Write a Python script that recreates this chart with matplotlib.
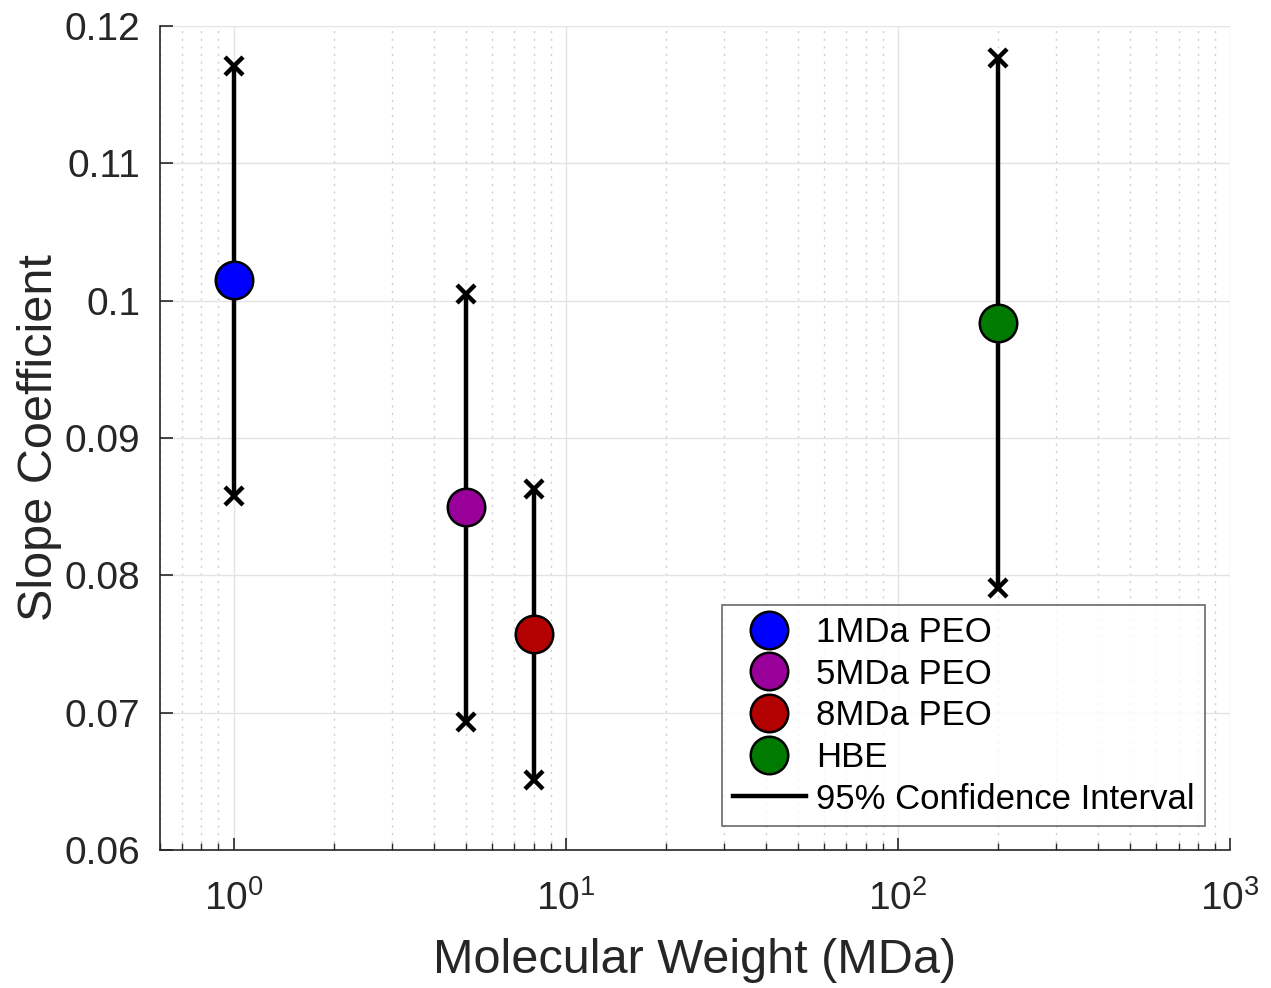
import matplotlib
matplotlib.use("Agg")
import matplotlib.pyplot as plt
from matplotlib.ticker import LogLocator, NullFormatter

plt.rcParams['font.family'] = ['Liberation Sans', 'DejaVu Sans']

labels = ["1MDa PEO", "5MDa PEO", "8MDa PEO", "HBE"]
mw = [1, 5, 8, 200]
slope = [0.1015, 0.0850, 0.0757, 0.0984]
ci_low = [0.0858, 0.0693, 0.0651, 0.0791]
ci_high = [0.1171, 0.1005, 0.0863, 0.1177]
colors = ["#0000ff", "#990099", "#b30000", "#007a00"]

fig = plt.figure(figsize=(12.71, 9.88), dpi=100)
ax = fig.add_axes([160/1271, 138/988, 1070/1271, 824/988])

# confidence intervals
for x, lo, hi in zip(mw, ci_low, ci_high):
    ci_line, = ax.plot([x, x], [lo, hi], color='k', lw=3.2, zorder=3)
    ax.plot([x, x], [lo, hi], ls='none', marker='x', ms=13, mew=3.2,
            color='k', zorder=3)

handles = []
for x, y, c, lab in zip(mw, slope, colors, labels):
    h, = ax.plot([x], [y], ls='none', marker='o', ms=27, mfc=c, mec='k',
                 mew=1.8, zorder=4, label=lab)
    handles.append(h)
ci_line.set_label("95% Confidence Interval")
handles.append(ci_line)

ax.set_xscale('log')
ax.set_xlim(0.6, 1000)
ax.set_ylim(0.06, 0.12)
ax.set_yticks([0.06, 0.07, 0.08, 0.09, 0.10, 0.11, 0.12])
ax.set_yticklabels(["0.06", "0.07", "0.08", "0.09", "0.1", "0.11", "0.12"])
ax.xaxis.set_major_locator(LogLocator(base=10, numticks=10))
ax.xaxis.set_minor_locator(LogLocator(base=10, subs=range(2, 10), numticks=20))
ax.xaxis.set_minor_formatter(NullFormatter())

ax.grid(True, which='major', color='#e3e3e3', lw=1.0, zorder=0)
ax.grid(True, which='minor', axis='x', color='#cfcfcf', lw=1.0,
        ls=(0, (1.5, 4)), zorder=0)
ax.set_axisbelow(True)

for s in ['top', 'right']:
    ax.spines[s].set_visible(False)
for s in ['left', 'bottom']:
    ax.spines[s].set_color('#262626')
    ax.spines[s].set_linewidth(1.2)

ax.tick_params(which='both', direction='in', colors='#262626',
               labelsize=28)
ax.tick_params(axis='y', pad=14)
ax.tick_params(axis='x', pad=22)
ax.tick_params(which='major', length=9, width=1.2)
ax.tick_params(which='minor', length=5, width=1.0)

ax.set_xlabel("Molecular Weight (MDa)", fontsize=35, color='#262626',
              labelpad=14)
ax.set_ylabel("Slope Coefficient", fontsize=35, color='#262626', labelpad=2)

leg = ax.legend(handles=handles, loc='lower right',
                bbox_to_anchor=(1045/1070, 24/824), borderaxespad=0,
                fontsize=25, frameon=True, fancybox=False,
                edgecolor='#444444', handlelength=2.1, handletextpad=0.3,
                labelspacing=0.25, borderpad=0.3, markerscale=1.0)
leg.get_frame().set_linewidth(1.2)

fig.savefig("out.png", dpi=100)
